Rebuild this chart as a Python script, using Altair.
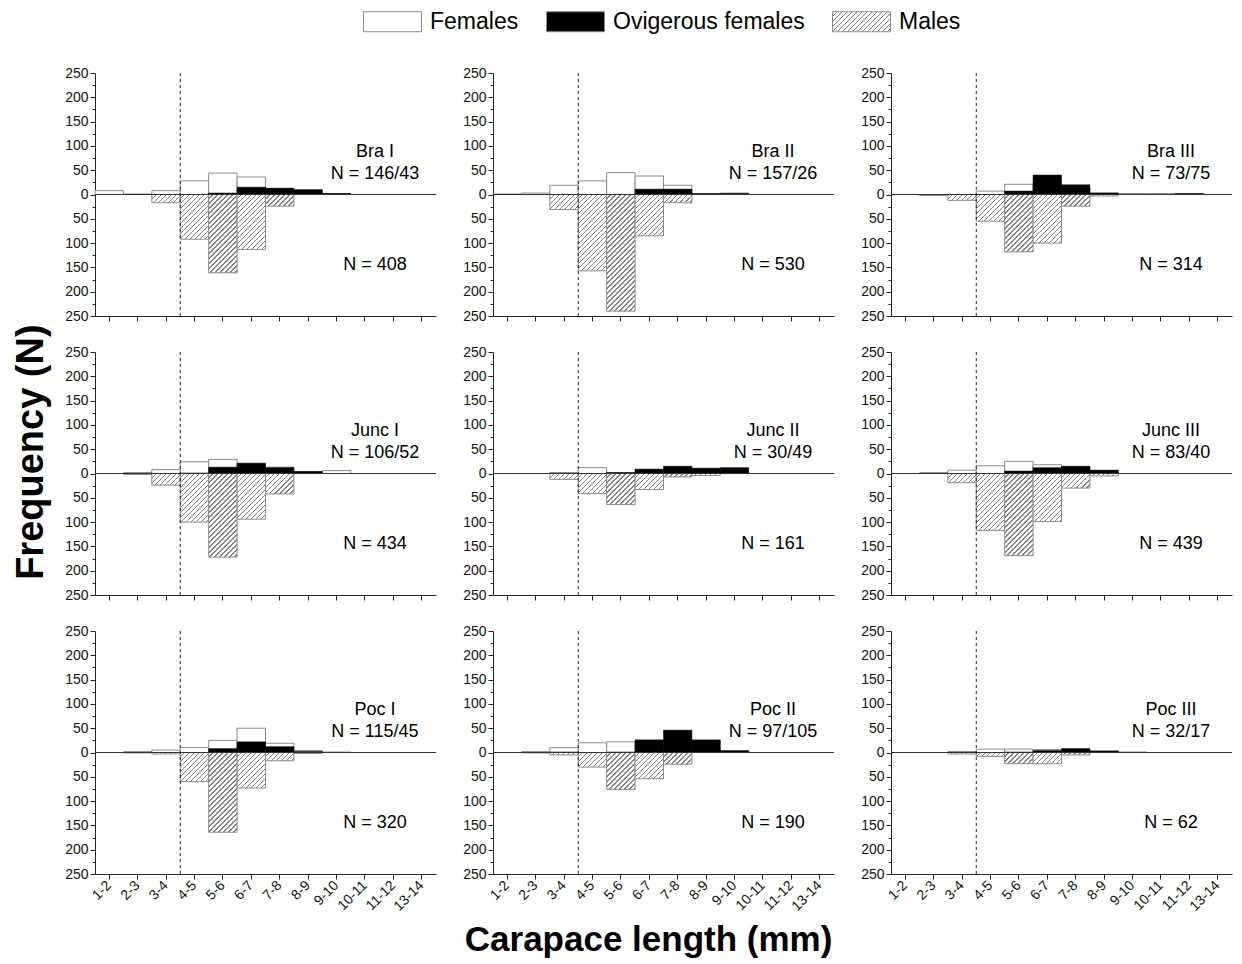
import altair as alt
import pandas as pd

# ---------------- data ----------------
CLASSES = ["1-2", "2-3", "3-4", "4-5", "5-6", "6-7", "7-8", "8-9", "9-10",
           "10-11", "11-12", "13-14"]
MATURITY_CLASS = "4-5"
SERIES = ["Females", "Ovigerous females", "Males"]

SITES = ["Bra I", "Bra II", "Bra III", "Junc I", "Junc II", "Junc III",
         "Poc I", "Poc II", "Poc III"]
N_FEMALES = ["N = 146/43", "N = 157/26", "N = 73/75", "N = 106/52", "N = 30/49",
             "N = 83/40", "N = 115/45", "N = 97/105", "N = 32/17"]
N_MALES = ["N = 408", "N = 530", "N = 314", "N = 434", "N = 161", "N = 439",
           "N = 320", "N = 190", "N = 62"]

BRA_I_F = [8, 1, 8, 28, 44, 36, 12, 8, 2, 0, 0, 0]
BRA_I_O = [0, 0, 0, 0, 3, 15, 13, 10, 2, 0, 0, 0]
BRA_I_M = [0, 0, 17, 92, 161, 113, 24, 0, 0, 0, 0, 0]

BRA_II_F = [1, 3, 19, 28, 45, 38, 19, 1, 3, 0, 0, 0]
BRA_II_O = [0, 0, 0, 0, 0, 11, 11, 2, 2, 0, 0, 0]
BRA_II_M = [0, 0, 31, 157, 240, 85, 17, 0, 0, 0, 0, 0]

BRA_III_F = [0, 0, 0, 7, 21, 25, 14, 3, 1, 1, 1, 0]
BRA_III_O = [0, 0, 0, 0, 7, 40, 20, 3, 1, 1, 2, 0]
BRA_III_M = [0, 2, 12, 55, 118, 100, 24, 3, 0, 0, 0, 0]

JUNC_I_F = [0, 1, 8, 24, 29, 21, 13, 4, 6, 0, 0, 0]
JUNC_I_O = [0, 1, 0, 1, 13, 21, 12, 4, 0, 0, 0, 0]
JUNC_I_M = [0, 2, 24, 100, 172, 94, 42, 0, 0, 0, 0, 0]

JUNC_II_F = [0, 0, 2, 12, 1, 5, 5, 3, 2, 0, 0, 0]
JUNC_II_O = [0, 0, 0, 0, 2, 9, 15, 11, 12, 0, 0, 0]
JUNC_II_M = [0, 0, 12, 41, 64, 33, 7, 4, 0, 0, 0, 0]

JUNC_III_F = [0, 1, 7, 16, 25, 18, 12, 4, 0, 0, 0, 0]
JUNC_III_O = [0, 1, 0, 0, 5, 12, 15, 7, 0, 0, 0, 0]
JUNC_III_M = [0, 0, 19, 117, 169, 99, 30, 5, 0, 0, 0, 0]

POC_I_F = [0, 1, 5, 10, 25, 50, 19, 4, 1, 0, 0, 0]
POC_I_O = [0, 1, 0, 0, 8, 22, 12, 2, 0, 0, 0, 0]
POC_I_M = [0, 1, 3, 60, 164, 73, 17, 2, 0, 0, 0, 0]

POC_II_F = [0, 1, 10, 20, 22, 20, 14, 8, 2, 0, 0, 0]
POC_II_O = [0, 1, 1, 0, 1, 26, 46, 26, 4, 0, 0, 0]
POC_II_M = [0, 1, 5, 30, 76, 54, 24, 0, 0, 0, 0, 0]

POC_III_F = [0, 0, 2, 7, 7, 6, 7, 3, 0, 0, 0, 0]
POC_III_O = [0, 0, 0, 0, 1, 4, 8, 3, 1, 0, 0, 0]
POC_III_M = [0, 0, 3, 8, 23, 23, 5, 0, 0, 0, 0, 0]

FEMALES = [BRA_I_F, BRA_II_F, BRA_III_F, JUNC_I_F, JUNC_II_F, JUNC_III_F,
           POC_I_F, POC_II_F, POC_III_F]
OVIGEROUS = [BRA_I_O, BRA_II_O, BRA_III_O, JUNC_I_O, JUNC_II_O, JUNC_III_O,
             POC_I_O, POC_II_O, POC_III_O]
MALES = [BRA_I_M, BRA_II_M, BRA_III_M, JUNC_I_M, JUNC_II_M, JUNC_III_M,
         POC_I_M, POC_II_M, POC_III_M]

# ---------------- layout / style ----------------
W, H = 341, 243
FONT = "Liberation Sans"
BAND_W = W / len(CLASSES)
PX_PER_UNIT = H / 500.0
Y_TICKS = list(range(-250, 251, 50))
Y_MINOR = list(range(-225, 226, 50))

N_STRIPES = 40
PERIOD = 5.0


def stripe_stops(n, light, dark, frac):
    parts = []
    for i in range(n):
        a, b, c = i / n, (i + frac) / n, (i + 1) / n
        for o, col in ((a, light), (b, light), (b, dark), (c, dark)):
            parts.append("{offset:%.5f,color:'%s'}" % (o, col))
    return "[" + ",".join(parts) + "]"


STOPS = stripe_stops(N_STRIPES, "#ffffff", "#808080", 0.76)
NP = N_STRIPES * PERIOD
K = PX_PER_UNIT
HATCH_EXPR = (
    "{gradient:'linear',x1:0,y1:0,"
    f"x2:{NP}*{BAND_W}/({BAND_W * BAND_W}+pow(datum.male*{K},2)),"
    f"y2:{NP}*datum.male*{K}/({BAND_W * BAND_W}+pow(datum.male*{K},2)),"
    f"stops:{STOPS}}}"
)

# legend symbol: 58 x 20 px box; layout size taken as 20 px
SYM_W, SYM_H = 58.0, 20.0
LEGEND_HATCH = (
    "{gradient:'linear',x1:0,y1:0,"
    f"x2:{NP * SYM_W / (SYM_W ** 2 + SYM_H ** 2):.4f},"
    f"y2:{NP * SYM_H / (SYM_W ** 2 + SYM_H ** 2):.4f},"
    f"stops:{STOPS}}}"
)
HALF = SYM_W / SYM_H
RECT_PATH = "M-%.4f,-1L%.4f,-1L%.4f,1L-%.4f,1Z" % (HALF, HALF, HALF, HALF)

fill_scale = alt.Scale(domain=SERIES,
                       range=["#ffffff", "#000000", alt.ExprRef(expr=LEGEND_HATCH)])
legend = alt.Legend(title=None, orient="none", legendX=286, legendY=-63,
                    direction="horizontal", symbolType=RECT_PATH,
                    symbolSize=SYM_H * SYM_H, symbolStrokeColor="#8a8a8a",
                    symbolStrokeWidth=1, labelFont=FONT, labelFontSize=23,
                    labelColor="#000000", labelOffset=26, columnPadding=25,
                    labelLimit=400)

x_scale = alt.Scale(domain=CLASSES, paddingInner=0, paddingOuter=0)
y_scale = alt.Scale(domain=[-250, 250], nice=False, zero=False)
y_axis = alt.Axis(values=Y_TICKS, labelExpr="abs(datum.value)", tickSize=5,
                  labelPadding=2, grid=False, title=None, orient="left")
y_axis_minor = alt.Axis(values=Y_MINOR, labels=False, domain=False, tickSize=3,
                        grid=False, title=None, orient="left")
x_axis_top = alt.Axis(labels=False, ticks=True, tickSize=5, grid=False, title=None)
x_axis_bottom = alt.Axis(labelAngle=-45, labelAlign="right", labelBaseline="middle",
                         tickSize=5, labelPadding=4, grid=False, title=None)

TEXT_CLASS = "10-11"
TEXT_Y = [88, 42, -145]


def panel(i, bottom):
    df = pd.DataFrame({"cls": CLASSES, "fem": FEMALES[i], "ovi": OVIGEROUS[i],
                       "male": MALES[i]})
    xa = x_axis_bottom if bottom else x_axis_top
    x = alt.X("cls:N", scale=x_scale, axis=xa)
    base = alt.Chart(df)
    fem = base.transform_filter("datum.fem > 0").transform_calculate(
        series="'Females'").mark_bar(stroke="#8a8a8a", strokeWidth=1).encode(
        x=x, y=alt.Y("fem:Q", scale=y_scale, axis=y_axis), y2=alt.datum(0),
        fill=alt.Fill("series:N", scale=fill_scale, legend=legend))
    ovi = base.transform_filter("datum.ovi > 0").transform_calculate(
        series="'Ovigerous females'").mark_bar(stroke="#000000", strokeWidth=0.5).encode(
        x=x, y=alt.Y("ovi:Q", scale=y_scale, axis=None), y2=alt.datum(0),
        fill=alt.Fill("series:N", scale=fill_scale, legend=legend))
    male = base.transform_filter("datum.male > 0").transform_calculate(
        neg="-datum.male", hatch=HATCH_EXPR).mark_bar(
        stroke="#8a8a8a", strokeWidth=1).encode(
        x=x, y=alt.Y("neg:Q", scale=y_scale, axis=None), y2=alt.datum(0),
        fill=alt.Fill("hatch:N", scale=None))
    zero = alt.Chart(pd.DataFrame({"v": [0]})).mark_rule(
        color="#333333", strokeWidth=1).encode(
        y=alt.Y("v:Q", scale=y_scale, axis=y_axis_minor))
    dash = alt.Chart(pd.DataFrame({"cls": [MATURITY_CLASS]})).mark_rule(
        color="#222222", strokeWidth=1, strokeDash=[3, 3]).encode(
        x=alt.X("cls:N", scale=x_scale, bandPosition=0, axis=xa))
    tdf = pd.DataFrame({"cls": [TEXT_CLASS] * 3, "ty": TEXT_Y,
                        "label": [SITES[i], N_FEMALES[i], N_MALES[i]]})
    text = alt.Chart(tdf).mark_text(font=FONT, fontSize=18, dx=10,
                                    color="#000000").encode(
        x=x, y=alt.Y("ty:Q", scale=y_scale, axis=None), text="label:N")
    return alt.layer(fem, ovi, male, zero, dash, text).resolve_axis(
        y="independent").properties(width=W, height=H)


panels = [panel(i, i >= 6) for i in range(9)]

grid = alt.concat(*panels, columns=3, spacing={"row": 36, "column": 57},
                  bounds="flush").properties(
    title=alt.TitleParams("Carapace length (mm)", orient="bottom", anchor="middle",
                          font=FONT, fontSize=35, fontWeight="bold",
                          color="#000000", offset=10))

chart = alt.hconcat(grid).properties(
    title=alt.TitleParams("Frequency (N)", orient="left", anchor="middle",
                          font=FONT, fontSize=38, fontWeight="bold",
                          color="#000000", offset=14, dx=32),
    padding={"left": 4, "top": 2, "right": 0, "bottom": 0},
).resolve_scale(fill="shared").resolve_legend(fill="shared").configure_view(
    stroke=None
).configure_axis(
    labelFont=FONT, labelFontSize=14, labelColor="#111111",
    domainColor="#222222", tickColor="#222222", domainWidth=1, tickWidth=1
)

chart.save("out.html", embed_options={"renderer": "svg", "actions": False})
